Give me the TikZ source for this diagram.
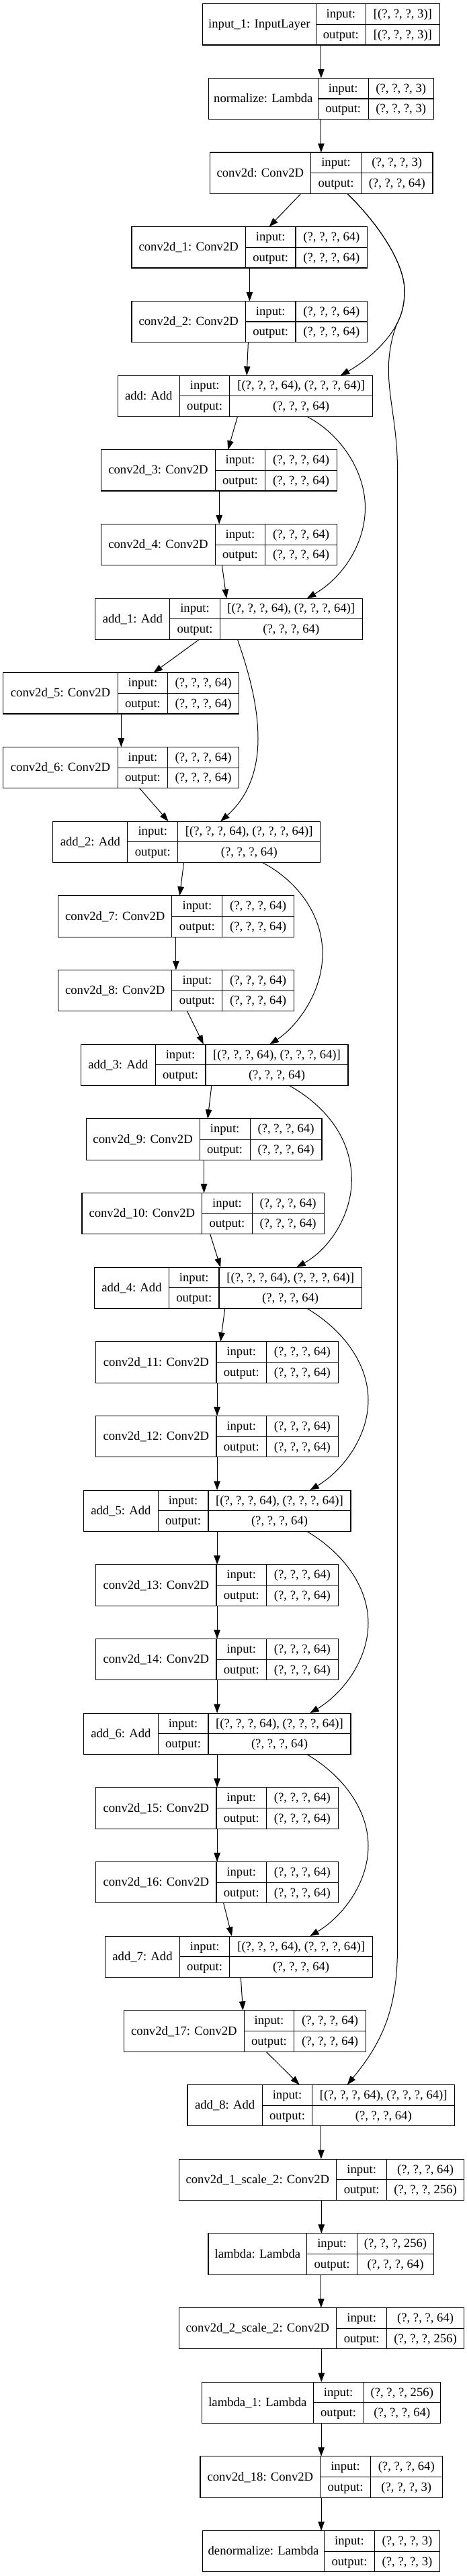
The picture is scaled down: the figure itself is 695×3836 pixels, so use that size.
\documentclass[tikz,border=0pt]{standalone}
\usepackage{fontspec}
\setmainfont{Liberation Serif}
\usetikzlibrary{arrows.meta}
\tikzset{
  lbox/.style={draw=black, line width=1.1pt, inner sep=0pt, outer sep=0pt},
  cellline/.style={draw=black, line width=1.1pt},
  ltext/.style={anchor=base, inner sep=0pt, font=\fontsize{18.67}{22}\selectfont},
  edge/.style={draw=black, line width=1pt, -{Triangle[length=13.5pt,width=9.5pt]}},
}
\newcommand\klayer[9]{%
  \pgfmathsetmacro\kT{5.7+110.67*#2}%
  \pgfmathsetmacro\kB{\kT+61.3}%
  \pgfmathsetmacro\kM{\kT+30.65}%
  \pgfmathsetmacro\kW{#6-#3}%
  \node[lbox, minimum width=\kW pt, minimum height=61.3pt, anchor=north west] (#1) at (#3,\kT) {};
  \draw[cellline] (#4,\kT) -- (#4,\kB);
  \draw[cellline] (#5,\kT) -- (#5,\kB);
  \draw[cellline] (#4,\kM) -- (#6,\kM);
  \node[ltext] at ({(#3+#4)/2},{\kM+5.6}) {#7};
  \node[ltext] at ({(#4+#5)/2},{\kT+20.9}) {input:};
  \node[ltext] at ({(#4+#5)/2},{\kM+20.9}) {output:};
  \node[ltext] at ({(#5+#6)/2},{\kT+20.9}) {#8};
  \node[ltext] at ({(#5+#6)/2},{\kM+20.9}) {#9};
}
\newcommand\qsf{(?, ?, ?, 64)}
\newcommand\qadd{[(?, ?, ?, 64), (?, ?, ?, 64)]}
\begin{document}
\begin{tikzpicture}[x=1pt,y=-1pt]
\fill[white] (0,0) rectangle (695,3836);
\useasboundingbox (0,0) rectangle (695,3836);

\klayer{in1}{0}{301.6}{470.1}{544.6}{654.2}{input\_1: InputLayer}{[(?, ?, ?, 3)]}{[(?, ?, ?, 3)]}
\klayer{norm}{1}{310.5}{473.2}{548.2}{645.3}{normalize: Lambda}{(?, ?, ?, 3)}{(?, ?, ?, 3)}
\klayer{c0}{2}{312.2}{462.6}{537.5}{644.0}{conv2d: Conv2D}{(?, ?, ?, 3)}{\qsf}
\klayer{c1}{3}{196.0}{365.4}{440.0}{546.8}{conv2d\_1: Conv2D}{\qsf}{\qsf}
\klayer{c2}{4}{196.0}{365.4}{440.0}{546.8}{conv2d\_2: Conv2D}{\qsf}{\qsf}
\klayer{a0}{5}{175.2}{267.4}{341.9}{554.4}{add: Add}{\qadd}{\qsf}
\klayer{c3}{6}{150.8}{320.2}{394.7}{501.6}{conv2d\_3: Conv2D}{\qsf}{\qsf}
\klayer{c4}{7}{150.8}{320.2}{394.7}{501.6}{conv2d\_4: Conv2D}{\qsf}{\qsf}
\klayer{a1}{8}{141.9}{252.8}{327.3}{539.3}{add\_1: Add}{\qadd}{\qsf}
\klayer{c5}{9}{4.9}{175.2}{249.7}{355.7}{conv2d\_5: Conv2D}{\qsf}{\qsf}
\klayer{c6}{10}{4.9}{175.2}{249.7}{355.7}{conv2d\_6: Conv2D}{\qsf}{\qsf}
\klayer{a2}{11}{78.9}{189.8}{264.8}{476.8}{add\_2: Add}{\qadd}{\qsf}
\klayer{c7}{12}{86.5}{255.9}{330.9}{437.3}{conv2d\_7: Conv2D}{\qsf}{\qsf}
\klayer{c8}{13}{86.5}{255.9}{330.9}{437.3}{conv2d\_8: Conv2D}{\qsf}{\qsf}
\klayer{a3}{14}{120.6}{231.1}{306.0}{518.0}{add\_3: Add}{\qadd}{\qsf}
\klayer{c9}{15}{128.2}{297.1}{372.1}{479.0}{conv2d\_9: Conv2D}{\qsf}{\qsf}
\klayer{c10}{16}{122.0}{300.7}{375.2}{482.1}{conv2d\_10: Conv2D}{\qsf}{\qsf}
\klayer{a4}{17}{140.6}{251.5}{326.0}{538.4}{add\_4: Add}{\qadd}{\qsf}
\klayer{c11}{18}{142.8}{322.0}{396.5}{503.4}{conv2d\_11: Conv2D}{\qsf}{\qsf}
\klayer{c12}{19}{142.8}{322.0}{396.5}{503.4}{conv2d\_12: Conv2D}{\qsf}{\qsf}
\klayer{a5}{20}{124.6}{235.1}{310.0}{522.0}{add\_5: Add}{\qadd}{\qsf}
\klayer{c13}{21}{142.8}{322.0}{396.5}{503.4}{conv2d\_13: Conv2D}{\qsf}{\qsf}
\klayer{c14}{22}{142.8}{322.0}{396.5}{503.4}{conv2d\_14: Conv2D}{\qsf}{\qsf}
\klayer{a6}{23}{124.6}{235.1}{310.0}{522.0}{add\_6: Add}{\qadd}{\qsf}
\klayer{c15}{24}{142.8}{322.0}{396.5}{503.4}{conv2d\_15: Conv2D}{\qsf}{\qsf}
\klayer{c16}{25}{142.8}{322.0}{396.5}{503.4}{conv2d\_16: Conv2D}{\qsf}{\qsf}
\klayer{a7}{26}{156.6}{267.4}{341.9}{554.4}{add\_7: Add}{\qadd}{\qsf}
\klayer{c17}{27}{184.5}{363.2}{437.7}{544.6}{conv2d\_17: Conv2D}{\qsf}{\qsf}
\klayer{a8}{28}{279.0}{390.3}{464.8}{676.8}{add\_8: Add}{\qadd}{\qsf}
\klayer{cs1}{29}{266.1}{500.7}{575.7}{690.5}{conv2d\_1\_scale\_2: Conv2D}{\qsf}{(?, ?, ?, 256)}
\klayer{lam}{30}{310.0}{456.8}{531.3}{645.7}{lambda: Lambda}{(?, ?, ?, 256)}{\qsf}
\klayer{cs2}{31}{266.1}{500.7}{575.7}{690.5}{conv2d\_2\_scale\_2: Conv2D}{\qsf}{(?, ?, ?, 256)}
\klayer{lam1}{32}{300.7}{466.1}{541.1}{655.5}{lambda\_1: Lambda}{(?, ?, ?, 256)}{\qsf}
\klayer{c18}{33}{298.0}{476.8}{551.3}{658.2}{conv2d\_18: Conv2D}{\qsf}{(?, ?, ?, 3)}
\klayer{dn}{34}{301.6}{482.5}{557.5}{654.6}{denormalize: Lambda}{(?, ?, ?, 3)}{(?, ?, ?, 3)}

% straight chain edges
\draw[edge] (in1.south) -- (in1.south |- norm.north);
\draw[edge] (norm.south) -- (norm.south |- c0.north);
\draw[edge] ([xshift=135.7pt]c0.south west) -- ([xshift=204.5pt]c1.north west);
\draw[edge] (c1.south) -- (c1.south |- c2.north);
\draw[edge] ([xshift=173.4pt]c2.south west) -- ([xshift=192.0pt]a0.north west);
\draw[edge] ([xshift=178.3pt]a0.south west) -- ([xshift=188.5pt]c3.north west);
\draw[edge] (c3.south) -- (c3.south |- c4.north);
\draw[edge] ([xshift=179.6pt]c4.south west) -- ([xshift=195.2pt]a1.north west);
\draw[edge] ([xshift=154.4pt]a1.south west) -- ([xshift=223.5pt]c5.north west);
\draw[edge] (c5.south) -- (c5.south |- c6.north);
\draw[edge] ([xshift=202.7pt]c6.south west) -- ([xshift=171.7pt]a2.north west);
\draw[edge] ([xshift=194.7pt]a2.south west) -- ([xshift=180.9pt]c7.north west);
\draw[edge] (c7.south) -- (c7.south |- c8.north);
\draw[edge] ([xshift=192.0pt]c8.south west) -- ([xshift=182.3pt]a3.north west);
\draw[edge] ([xshift=194.3pt]a3.south west) -- ([xshift=180.9pt]c9.north west);
\draw[edge] (c9.south) -- (c9.south |- c10.north);
\draw[edge] ([xshift=190.7pt]c10.south west) -- ([xshift=187.6pt]a4.north west);
\draw[edge] ([xshift=194.2pt]a4.south west) -- ([xshift=185.4pt]c11.north west);
\draw[edge] (c11.south) -- (c11.south |- c12.north);
\draw[edge] (c12.south) -- (c12.south |- a5.north);
\draw[edge] (c12.south |- a5.south) -- (c13.north);
\draw[edge] (c13.south) -- (c13.south |- c14.north);
\draw[edge] (c14.south) -- (c14.south |- a6.north);
\draw[edge] (c14.south |- a6.south) -- (c15.north);
\draw[edge] (c15.south) -- (c15.south |- c16.north);
\draw[edge] ([xshift=189.8pt]c16.south west) -- ([xshift=188.4pt]a7.north west);
\draw[edge] ([xshift=201.7pt]a7.south west) -- ([xshift=177.0pt]c17.north west);
\draw[edge] ([xshift=211.5pt]c17.south west) -- ([xshift=166.7pt]a8.north west);
\draw[edge] (a8.south) -- (a8.south |- cs1.north);
\draw[edge] (cs1.south) -- (cs1.south |- lam.north);
\draw[edge] (lam.south) -- (lam.south |- cs2.north);
\draw[edge] (cs2.south) -- (cs2.south |- lam1.north);
\draw[edge] (lam1.south) -- (lam1.south |- c18.north);
\draw[edge] (c18.south) -- (c18.south |- dn.north);

% skip connections
\draw[edge] ([xshift=204.5pt]c0.south west) .. controls (560,330) and (602,390) .. (602,433)
  .. controls (602,455) and (597,470) .. (591.7,480)
  .. controls (580,505) and (550,535) .. ([xshift=331.5pt]a0.north west);
\draw[edge] ([xshift=204.5pt]c0.south west) .. controls (560,330) and (602,390) .. (602,433)
  .. controls (602,455) and (597,470) .. (591.7,480)
  .. controls (583,500) and (577,530) .. (578.5,560)
  .. controls (580,600) and (591.5,640) .. (591.5,700) -- (591.5,2900)
  .. controls (591.5,2990) and (570,3040) .. ([xshift=237.7pt]a8.north west);
\draw[edge] ([xshift=281.6pt]a0.south west) .. controls (505,645) and (543.5,700) .. (543.5,756)
  .. controls (543.5,810) and (510,860) .. ([xshift=314.9pt]a1.north west);
\draw[edge] ([xshift=211.6pt]a1.south west) .. controls (370,1000) and (384,1050) .. (384,1100)
  .. controls (384,1160) and (360,1195) .. ([xshift=249.3pt]a2.north west);
\draw[edge] ([xshift=311.4pt]a2.south west) .. controls (440,1310) and (480,1360) .. (480,1420)
  .. controls (480,1480) and (440,1530) .. ([xshift=280.8pt]a3.north west);
\draw[edge] ([xshift=309.6pt]a3.south west) .. controls (490,1650) and (523.3,1700) .. (523.3,1756.7)
  .. controls (523.3,1810) and (490,1860) .. ([xshift=300.7pt]a4.north west);
\draw[edge] ([xshift=316.2pt]a4.south west) .. controls (510,1980) and (548,2030) .. (548,2085)
  .. controls (548,2140) and (510,2190) .. ([xshift=336.6pt]a5.north west);
\draw[edge] ([xshift=332.2pt]a5.south west) .. controls (510,2312) and (548,2362) .. (548,2417)
  .. controls (548,2472) and (510,2522) .. ([xshift=336.6pt]a6.north west);
\draw[edge] ([xshift=332.2pt]a6.south west) .. controls (510,2644) and (548,2694) .. (548,2749)
  .. controls (548,2804) and (510,2854) .. ([xshift=304.6pt]a7.north west);
\end{tikzpicture}
\end{document}
